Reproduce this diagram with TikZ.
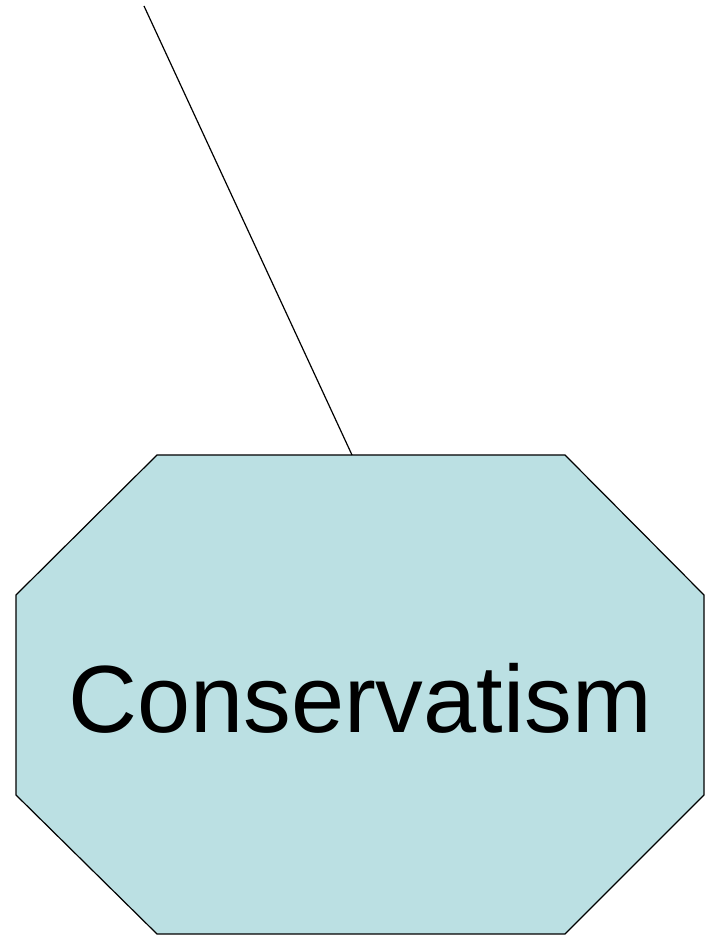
\documentclass[tikz,border=0pt]{standalone}
\usepackage{fontspec}
\setmainfont{Liberation Sans}
\definecolor{octfill}{HTML}{BBE0E3}
\begin{document}
\begin{tikzpicture}[x=1pt,y=1pt,
  octagon/.style={fill=octfill,draw=black,line width=1.2pt,line join=miter},
  link/.style={draw=black,line width=1.2pt}]
\useasboundingbox (0,0) rectangle (711,935);
\coordinate (top) at (144,929);
\coordinate (att) at (352,480);
\draw[octagon] (157,480) -- (565,480) -- (704,340) -- (704,140) -- (565,1) -- (157,1) -- (16,140) -- (16,340) -- cycle;
\node (lbl) at (360,237) {\fontsize{95.5}{110}\selectfont Conservatism};
\draw[link] (top) -- (att);
\end{tikzpicture}
\end{document}
